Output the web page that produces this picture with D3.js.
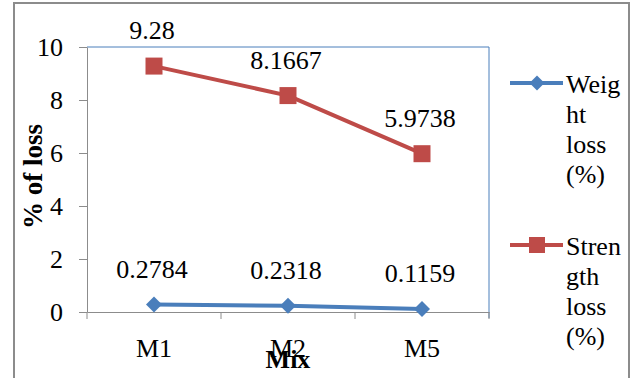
<!DOCTYPE html>
<html>
<head>
<meta charset="utf-8">
<script src="https://cdn.jsdelivr.net/npm/d3@7/dist/d3.min.js"></script>
<style>
  html, body { margin: 0; padding: 0; background: #fff; }
  svg { display: block; }
  svg text { font-family: "Liberation Serif", "Tinos", "DejaVu Serif", serif !important; fill: #000; }
</style>
</head>
<body>
<svg id="chart" width="637" height="378"></svg>
<script>
// Loss measured for each mix
const categories = ["M1", "M2", "M5"];
const weightLoss = [0.2784, 0.2318, 0.1159];
const strengthLoss = [9.28, 8.1667, 5.9738];
const yTicks = [0, 2, 4, 6, 8, 10];
const seriesNames = [["Weig", "ht", "loss", "(%)"], ["Stren", "gth", "loss", "(%)"]];
const yTitle = "% of loss";
const xTitle = "Mix";

const blue = "#4a7ebb";
const red = "#be4b48";
const fontSize = 26;
const serif = '"Liberation Serif", "Tinos", "DejaVu Serif", serif';

const svg = d3.select("#chart");

// outer chart frame
svg.append("rect")
  .attr("x", 14).attr("y", 3).attr("width", 615).attr("height", 390)
  .attr("fill", "none").attr("stroke", "#8c8c8c").attr("stroke-width", 2);

const plot = { left: 87, right: 489, top: 47, bottom: 312 };

const x = d3.scaleBand().domain(categories).range([plot.left, plot.right]).padding(0);
const y = d3.scaleLinear().domain([0, 10]).range([plot.bottom, plot.top]);
const cx = d => x(d) + x.bandwidth() / 2;

// plot area border (top & right)
svg.append("path")
  .attr("d", `M${plot.left},${plot.top}H${plot.right}V${plot.bottom + 6}`)
  .attr("fill", "none").attr("stroke", blue).attr("stroke-width", 1);

// y axis
const yAxis = svg.append("g")
  .attr("transform", `translate(${plot.left},0)`)
  .call(d3.axisLeft(y).tickValues(yTicks).tickSize(8).tickSizeOuter(0).tickPadding(16));
yAxis.attr("font-family", serif);
yAxis.select(".domain").attr("stroke", "#8c8c8c");
yAxis.selectAll(".tick line").attr("stroke", "#8c8c8c");
yAxis.selectAll(".tick text")
  .attr("font-size", fontSize).attr("fill", "#000");

// x axis
const xAxis = svg.append("g")
  .attr("transform", `translate(0,${plot.bottom})`)
  .call(d3.axisBottom(x).tickSize(0).tickSizeOuter(0).tickPadding(0));
xAxis.attr("font-family", serif);
xAxis.select(".domain").attr("stroke", "#8c8c8c");
xAxis.selectAll(".tick text")
  .attr("font-size", fontSize).attr("fill", "#000")
  .attr("dy", null).attr("y", 45);
// category boundary ticks
const bounds = categories.map(c => x(c)).concat([x(categories[categories.length - 1]) + x.bandwidth()]);
xAxis.selectAll(".bound").data(bounds).enter().append("line")
  .attr("class", "bound")
  .attr("x1", d => d).attr("x2", d => d)
  .attr("y1", 0).attr("y2", 7)
  .attr("stroke", "#8c8c8c");

// axis titles
svg.append("text")
  .attr("transform", `translate(42,${(plot.top + plot.bottom) / 2 - 3}) rotate(-90)`)
  .attr("text-anchor", "middle")
  .attr("font-size", 27).attr("font-weight", "bold")
  .text(yTitle);
svg.append("text")
  .attr("x", cx(categories[1])).attr("y", 368)
  .attr("text-anchor", "middle")
  .attr("font-size", fontSize).attr("font-weight", "bold")
  .text(xTitle);

const line = d3.line().x((d, i) => cx(categories[i])).y(d => y(d));

function drawSeries(values, color, shape) {
  svg.append("path")
    .datum(values)
    .attr("d", line)
    .attr("fill", "none").attr("stroke", color).attr("stroke-width", 4)
    .attr("stroke-linejoin", "round");
  const sym = d3.symbol().type(d3.symbolSquare)
    .size(shape === "diamond" ? 128 : 289);
  svg.selectAll(null).data(values).enter().append("path")
    .attr("d", sym)
    .attr("transform", (d, i) => `translate(${cx(categories[i])},${y(d)})${shape === "diamond" ? " rotate(45)" : ""}`)
    .attr("fill", color);
  svg.selectAll(null).data(values).enter().append("text")
    .attr("x", (d, i) => cx(categories[i]) - 2)
    .attr("y", d => y(d) - 27)
    .attr("text-anchor", "middle")
    .attr("font-size", fontSize)
    .text(d => d);
}

drawSeries(weightLoss, blue, "diamond");
drawSeries(strengthLoss, red, "square");

// legend
const legendRows = [
  { color: blue, shape: "diamond", y: 83, names: seriesNames[0] },
  { color: red, shape: "square", y: 245, names: seriesNames[1] }
];
legendRows.forEach(r => {
  svg.append("line")
    .attr("x1", 510).attr("x2", 563).attr("y1", r.y).attr("y2", r.y)
    .attr("stroke", r.color).attr("stroke-width", 4);
  svg.append("path")
    .attr("d", d3.symbol().type(d3.symbolSquare).size(r.shape === "diamond" ? 113 : 256)())
    .attr("transform", `translate(537,${r.y})${r.shape === "diamond" ? " rotate(45)" : ""}`)
    .attr("fill", r.color);
  const t = svg.append("text").attr("x", 566).attr("y", r.y + 10).attr("font-size", fontSize);
  r.names.forEach((s, i) => {
    t.append("tspan").attr("x", 566).attr("dy", i === 0 ? 0 : 30).text(s);
  });
});
</script>
</body>
</html>
